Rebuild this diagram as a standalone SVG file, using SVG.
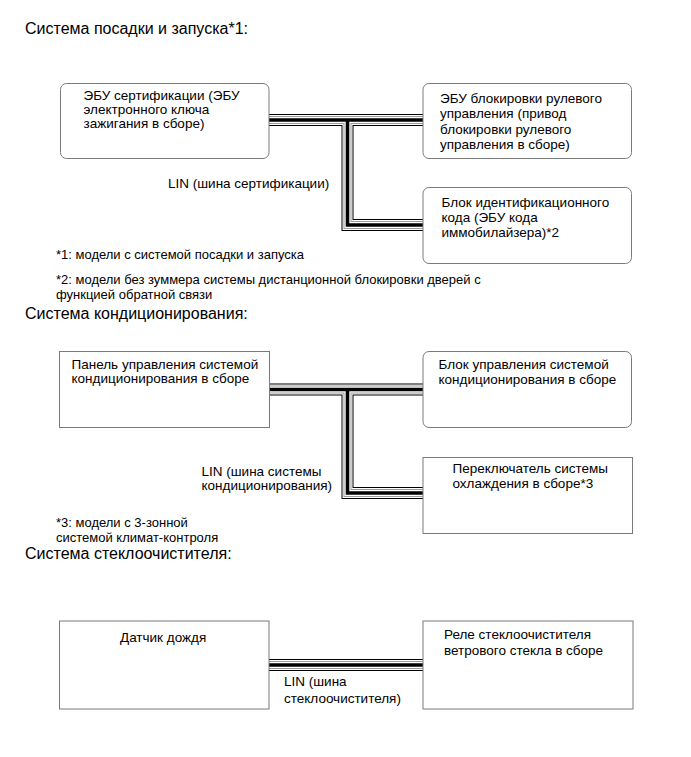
<svg xmlns="http://www.w3.org/2000/svg" width="691" height="757" viewBox="0 0 691 757">
<style>
text{font-family:"Liberation Sans",Arial,sans-serif;fill:#000}
.h{font-size:16px}
.t{font-size:13.5px}
.f{font-size:13px}
.box{fill:#fff;stroke:#7a7a7a;stroke-width:1}
.bus{fill:none;stroke-linecap:butt;stroke-linejoin:miter}
.l1{stroke:#000;stroke-width:12}
.l2{stroke:#fff;stroke-width:10}
.l3{stroke:#9a9a9a;stroke-width:8}
.l4{stroke:#fff;stroke-width:6}
.l5{stroke:#000;stroke-width:3.6}
</style>
<rect width="691" height="757" fill="#fff"/>

<text class="h" x="25" y="34">Система посадки и запуска*1:</text>
<text class="f" x="56" y="259">*1: модели с системой посадки и запуска</text>
<text class="f" x="56" y="284">*2: модели без зуммера системы дистанционной блокировки дверей с</text>
<text class="f" x="56" y="299">функцией обратной связи</text>
<text class="h" x="25" y="319">Система кондиционирования:</text>
<text class="f" x="56" y="527">*3: модели с 3-зонной</text>
<text class="f" x="56" y="541.5">системой климат-контроля</text>
<text class="h" x="25" y="559">Система стеклоочистителя:</text>

<g id="connectors">
<path class="bus l1" d="M269,120 H423 M347.5,120 V225 H423 M269.5,389.5 H423 M347.5,389.5 V493 H423 M269,665 H423"/>
<path class="bus l2" d="M269,120 H423 M347.5,120 V225 H423 M269.5,389.5 H423 M347.5,389.5 V493 H423 M269,665 H423"/>
<path class="bus l3" d="M269,120 H423 M347.5,120 V225 H423 M269.5,389.5 H423 M347.5,389.5 V493 H423 M269,665 H423"/>
<path class="bus l4" d="M269,120 H423 M347.5,120 V225 H423 M269.5,389.5 H423 M347.5,389.5 V493 H423 M269,665 H423"/>
<path class="bus l5" d="M269,120 H423 M347.5,120 V225 H423 M269.5,389.5 H423 M347.5,389.5 V493 H423 M269,665 H423"/>
</g>

<g id="lin1-label"><text class="t" x="168" y="188">LIN (шина сертификации)</text></g>
<g id="lin2-label"><text class="t" x="201.5" y="475.5">LIN (шина системы</text><text class="t" x="201.5" y="489.5">кондиционирования)</text></g>
<g id="lin3-label"><text class="t" x="284" y="686">LIN (шина</text><text class="t" x="284" y="702.5">стеклоочистителя)</text></g>

<g id="cert-ecu">
<rect class="box" x="60.5" y="83.5" width="208.5" height="75" rx="6"/>
<text class="t" x="83.5" y="99.5">ЭБУ сертификации (ЭБУ</text>
<text class="t" x="83.5" y="113.5">электронного ключа</text>
<text class="t" x="83.5" y="127.5">зажигания в сборе)</text>
</g>
<g id="steering-lock-ecu">
<rect class="box" x="423" y="83.5" width="208.5" height="75" rx="6"/>
<text class="t" x="440" y="102.5">ЭБУ блокировки рулевого</text>
<text class="t" x="440" y="118">управления (привод</text>
<text class="t" x="440" y="133.5">блокировки рулевого</text>
<text class="t" x="440" y="149">управления в сборе)</text>
</g>
<g id="id-code-box">
<rect class="box" x="423" y="187.5" width="208.5" height="76" rx="6"/>
<text class="t" x="441.5" y="207">Блок идентификационного</text>
<text class="t" x="441.5" y="222">кода (ЭБУ кода</text>
<text class="t" x="441.5" y="237">иммобилайзера)*2</text>
</g>

<g id="ac-panel">
<rect class="box" x="59.5" y="351.5" width="210" height="76"/>
<text class="t" x="71.5" y="368.5">Панель управления системой</text>
<text class="t" x="71.5" y="382.5">кондиционирования в сборе</text>
</g>
<g id="ac-control">
<rect class="box" x="423" y="351.5" width="208.5" height="76" rx="6"/>
<text class="t" x="438.5" y="369">Блок управления системой</text>
<text class="t" x="438.5" y="383.5">кондиционирования в сборе</text>
</g>
<g id="cooling-switch">
<rect class="box" x="423" y="457.5" width="209.5" height="76"/>
<text class="t" x="452.5" y="472.5">Переключатель системы</text>
<text class="t" x="452.5" y="487.5">охлаждения в сборе*3</text>
</g>

<g id="rain-sensor">
<rect class="box" x="59.5" y="621" width="209.5" height="88"/>
<text class="t" x="120" y="641.5">Датчик дождя</text>
</g>
<g id="wiper-relay">
<rect class="box" x="423" y="621" width="210" height="88"/>
<text class="t" x="444" y="638.5">Реле стеклоочистителя</text>
<text class="t" x="444" y="655">ветрового стекла в сборе</text>
</g>
</svg>
